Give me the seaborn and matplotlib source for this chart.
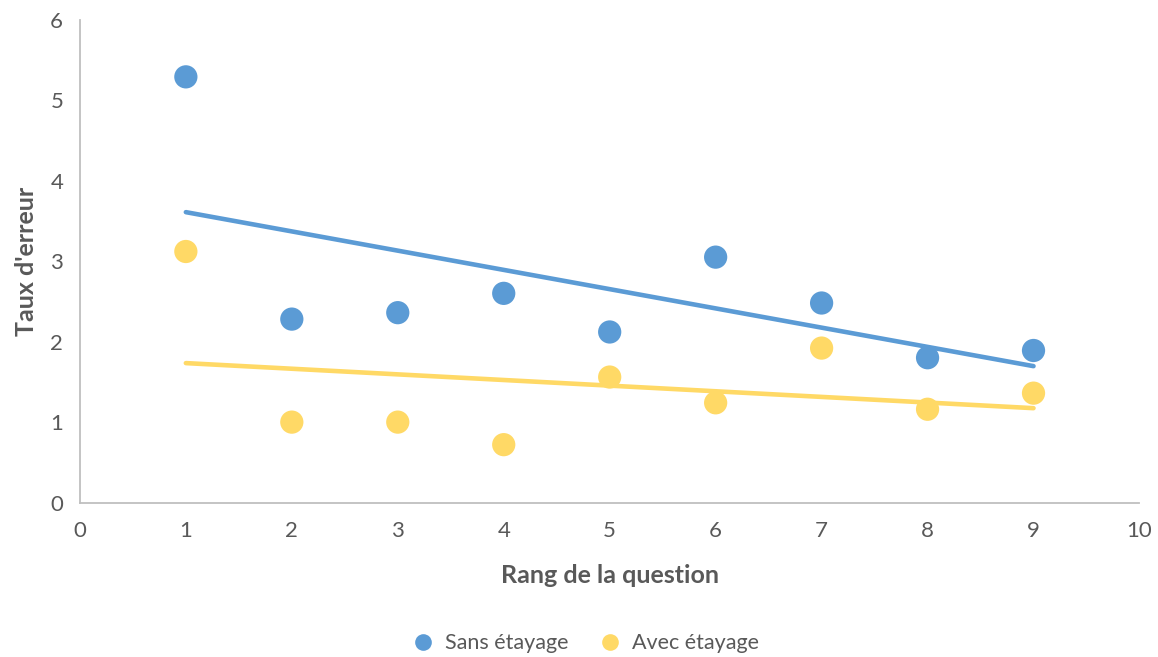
import pandas as pd
import numpy as np
import matplotlib.pyplot as plt
import seaborn as sns

# Values
rang = [1, 2, 3, 4, 5, 6, 7, 8, 9]
sans_etayage = [5.29, 2.28, 2.36, 2.60, 2.12, 3.05, 2.48, 1.80, 1.89]
avec_etayage = [3.12, 1.00, 1.00, 0.72, 1.56, 1.24, 1.92, 1.16, 1.36]
series_names = ['Sans étayage', 'Avec étayage']
colors = ['#5B9BD5', '#FFD966']

data = pd.DataFrame({
    'rang': rang * 2,
    'taux': sans_etayage + avec_etayage,
    'serie': [series_names[0]] * len(rang) + [series_names[1]] * len(rang),
})

sns.set_style('white')
plt.rcParams['font.family'] = ['Lato', 'DejaVu Sans']
grey = '#595959'

fig = plt.figure(figsize=(11.58, 6.57), dpi=100)
ax = fig.add_axes([0.069, 0.235, 0.915, 0.735])

# Linear trendlines
for name, col in zip(series_names, colors):
    sub = data[data['serie'] == name]
    sns.regplot(x='rang', y='taux', data=sub, scatter=False, ci=None, ax=ax,
                color=col, line_kws={'linewidth': 3.3, 'solid_capstyle': 'round', 'zorder': 2})

# Points
sns.scatterplot(x='rang', y='taux', hue='serie', data=data, palette=colors,
                s=280, edgecolor='none', ax=ax, zorder=3, legend=False)

ax.set_xlim(0, 10)
ax.set_ylim(0, 6)
ax.set_xticks(range(0, 11))
ax.set_yticks(range(0, 7))
ax.tick_params(axis='x', length=0, labelsize=16, colors=grey, pad=13)
ax.tick_params(axis='y', length=0, labelsize=16, colors=grey, pad=12)

for side in ['top', 'right']:
    ax.spines[side].set_visible(False)
for side in ['left', 'bottom']:
    ax.spines[side].set_color('#BFBFBF')
    ax.spines[side].set_linewidth(1.3)

ax.set_xlabel('Rang de la question', fontsize=18, fontweight='bold', color=grey, labelpad=17)
ax.set_ylabel("Taux d'erreur", fontsize=18, fontweight='bold', color=grey, labelpad=9)

handles = [plt.Line2D([], [], marker='o', linestyle='none', markersize=12,
                      markerfacecolor=c, markeredgecolor='none') for c in colors]
fig.legend(handles, series_names, loc='center', bbox_to_anchor=(0.501, 0.021),
           ncol=2, frameon=False, fontsize=15.5, labelcolor=grey,
           handletextpad=0.05, columnspacing=0.9)

fig.savefig('out.png', dpi=100)
